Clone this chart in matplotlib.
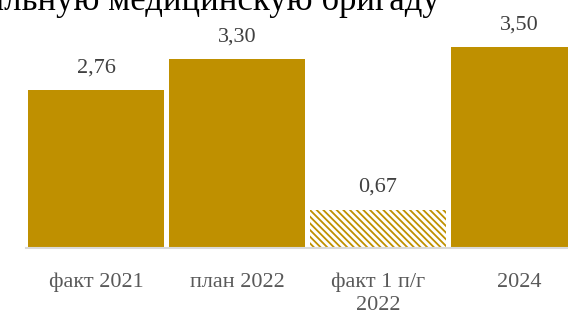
import matplotlib.pyplot as plt

# данные
kategorier = ["факт 2021", "план 2022", "факт 1 п/г\n2022", "2024"]
varden = [2.76, 3.30, 0.67, 3.50]
etiketter = ["2,76", "3,30", "0,67", "3,50"]
titel = "общепрофильную медицинскую бригаду"

guld = "#BF9000"
plt.rcParams["font.family"] = ["Liberation Serif", "DejaVu Serif"]
plt.rcParams["hatch.linewidth"] = 1.3

fig = plt.figure(figsize=(5.68, 3.14), dpi=100)
# axeln går utanför figuren till höger, som i originalet
steg = 141 / 568
ax = fig.add_axes([(96 - 70.5) / 568, 66 / 314, 4 * steg, 229.6 / 314])

x = range(len(varden))
farger = [guld, guld, "white", guld]
staplar = ax.bar(x, varden, width=0.965, color=farger, edgecolor="none")
# halvårsstapeln randig
staplar[2].set_edgecolor(guld)
staplar[2].set_linewidth(0)
staplar[2].set_hatch("\\" * 5)

for i, (v, t) in enumerate(zip(varden, etiketter)):
    ax.annotate(t, (i, v), xytext=(0, 9), textcoords="offset points",
                ha="center", va="bottom", fontsize=16, color="#404040")

ax.set_xlim(-0.5, 3.5)
ax.set_ylim(0, 4)
ax.set_xticks(list(x))
ax.set_xticklabels(kategorier, fontsize=16, color="#595959", linespacing=1.28)
ax.tick_params(axis="x", length=0, pad=18)
ax.set_yticks([])
for s in ["top", "right", "left"]:
    ax.spines[s].set_visible(False)
ax.spines["bottom"].set_color("#D9D9D9")
ax.spines["bottom"].set_linewidth(1.5)

fig.text(440 / 568, 1 - 10 / 314, titel, ha="right", va="baseline",
         fontsize=25, color="black")

fig.savefig("out.png", dpi=100)
